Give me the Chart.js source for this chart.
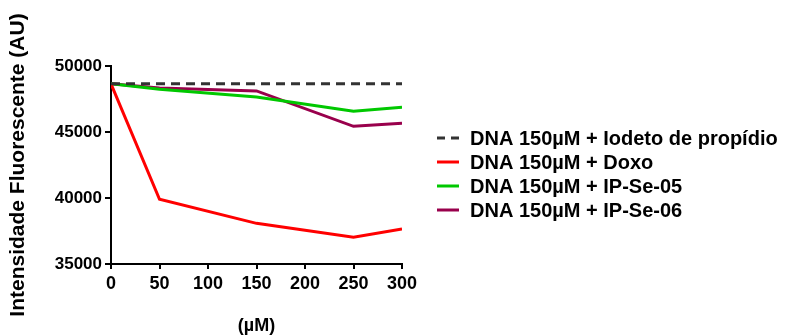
<!DOCTYPE html>
<html>
<head>
<meta charset="utf-8">
<script src="https://cdn.jsdelivr.net/npm/chart.js@4.4.1/dist/chart.umd.min.js"></script>
<style>
  html, body { margin: 0; padding: 0; background: #fff; }
  #wrap { width: 788px; height: 335px; position: relative; }
</style>
</head>
<body>
<div id="wrap"><canvas id="c" width="788" height="335"></canvas></div>
<script>
// ---- data ----
const concentrations = [0, 50, 150, 250, 300];
const seriesLabels = [
  "DNA 150\u00b5M + Iodeto de prop\u00eddio",
  "DNA 150\u00b5M + Doxo",
  "DNA 150\u00b5M + IP-Se-05",
  "DNA 150\u00b5M + IP-Se-06"
];
const iodetoValues = [48650, 48650, 48650, 48650, 48650];
const doxoValues   = [48650, 39900, 38080, 37020, 37650];
const ipSe05Values = [48650, 48240, 47650, 46570, 46870];
const ipSe06Values = [48650, 48330, 48110, 45430, 45660];
const xTicks = [0, 50, 100, 150, 200, 250, 300];
const yTicks = [35000, 40000, 45000, 50000];
const yTitle = "Intensidade Fluorescente (AU)";
const xTitle = "(\u00b5M)";

const FONT = "'Liberation Sans', Arial, Helvetica, sans-serif";
const colors = ["#333333", "#ff0000", "#00c800", "#99004c"];
const dashes = [[9, 6], [], [], []];

function toPoints(vals) { return concentrations.map((x, i) => ({ x: x, y: vals[i] })); }
const allValues = [iodetoValues, doxoValues, ipSe05Values, ipSe06Values];

const datasets = allValues.map((vals, i) => ({
  label: seriesLabels[i],
  data: toPoints(vals),
  borderColor: colors[i],
  backgroundColor: colors[i],
  borderWidth: 3,
  borderDash: dashes[i],
  pointRadius: 0,
  tension: 0,
  fill: false
}));

const legendPlugin = {
  id: 'customLegend',
  afterDraw(chart) {
    const ctx = chart.ctx;
    ctx.save();
    ctx.font = "bold 20px " + FONT;
    ctx.textBaseline = 'middle';
    ctx.textAlign = 'left';
    chart.data.datasets.forEach((ds, i) => {
      const y = 138 + i * 24;
      ctx.beginPath();
      ctx.setLineDash(ds.borderDash && ds.borderDash.length ? [8, 6] : []);
      ctx.strokeStyle = ds.borderColor;
      ctx.lineWidth = 3;
      ctx.moveTo(437, y);
      ctx.lineTo(459, y);
      ctx.stroke();
      ctx.setLineDash([]);
      ctx.fillStyle = '#000';
      ctx.fillText(ds.label, 470, y + 1);
    });
    ctx.restore();
  }
};

new Chart(document.getElementById('c'), {
  type: 'line',
  data: { datasets: datasets },
  plugins: [legendPlugin],
  options: {
    responsive: false,
    animation: false,
    events: [],
    layout: { padding: { left: 0, right: 386, top: 66, bottom: 0 } },
    plugins: { legend: { display: false }, tooltip: { enabled: false } },
    scales: {
      x: {
        type: 'linear',
        min: 0, max: 300,
        afterBuildTicks(scale) { scale.ticks = xTicks.map(v => ({ value: v })); },
        afterFit(scale) { scale.height = 71; },
        border: { display: true, color: '#000', width: 2 },
        grid: { display: true, drawOnChartArea: false, drawTicks: true, tickLength: 5, color: '#000', lineWidth: 2 },
        ticks: { color: '#000', padding: 4, maxRotation: 0, font: { family: FONT, size: 18, weight: 'bold' } },
        title: { display: true, text: xTitle, color: '#000', padding: { top: 0, bottom: 0 },
                 font: { family: FONT, size: 18, weight: 'bold', lineHeight: 1 } }
      },
      y: {
        type: 'linear',
        min: 35000, max: 50000,
        afterBuildTicks(scale) { scale.ticks = yTicks.map(v => ({ value: v })); },
        afterFit(scale) { scale.width = 111; },
        border: { display: true, color: '#000', width: 2 },
        grid: { display: true, drawOnChartArea: false, drawTicks: true, tickLength: 6, color: '#000', lineWidth: 2 },
        ticks: { color: '#000', padding: 3, font: { family: FONT, size: 17, weight: 'bold' },
                 callback: v => String(v) },
        title: { display: true, text: yTitle, color: '#000', padding: { top: 6, bottom: 0 },
                 font: { family: FONT, size: 21, weight: 'bold', lineHeight: 1.2 } }
      }
    }
  }
});
</script>
</body>
</html>
